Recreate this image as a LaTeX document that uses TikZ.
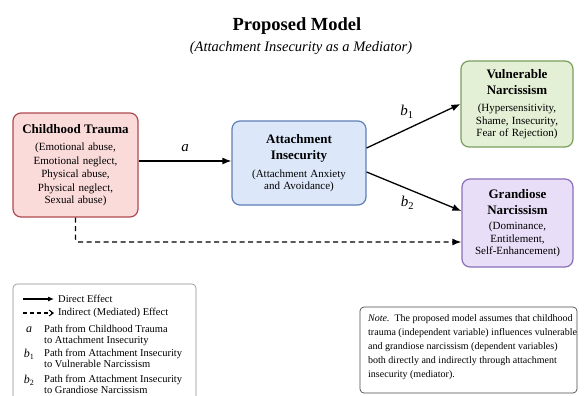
\documentclass[tikz,border=0pt]{standalone}
\usepackage{fontspec}
\setmainfont{Liberation Serif}[BoldFont={Liberation Serif Bold},ItalicFont={Liberation Serif Italic},BoldItalicFont={Liberation Serif Bold Italic}]
\usepackage{amsmath}
\usepackage{xcolor}
\usepackage{tikz}
\usetikzlibrary{arrows.meta}
\usetikzlibrary{calc,positioning}

\definecolor{traumafill}{HTML}{FBDADA}
\definecolor{traumaline}{HTML}{B04A50}
\definecolor{attachfill}{HTML}{DCE8FA}
\definecolor{attachline}{HTML}{5E7FB8}
\definecolor{vulnfill}{HTML}{E3F0D5}
\definecolor{vulnline}{HTML}{7A9E5C}
\definecolor{grandfill}{HTML}{E8DEF8}
\definecolor{grandline}{HTML}{8A6FB8}

\tikzset{
  model/.style={draw,line width=1.2pt,rounded corners=8pt,align=center,inner sep=2pt,text width=#1},
  effect/.style={line width=1.3pt,-{Latex[length=9pt,width=7pt]}},
  pathlabel/.style={font=\fontsize{15}{16}\selectfont\itshape},
  legendtext/.style={anchor=west,align=left,font=\fontsize{10.5}{11}\selectfont,inner sep=0pt}
}
\newcommand{\boxhead}{\fontsize{13}{16.5}\selectfont\bfseries}
\newcommand{\boxbody}{\par\fontsize{11}{13.4}\selectfont\mdseries}

\begin{document}
\begin{tikzpicture}[x=1pt,y=-1pt]
        \useasboundingbox[fill=white] (0,0) rectangle (586,396);
        % title
        \node (title) at (297,26) {\fontsize{18.5}{20}\selectfont\bfseries Proposed Model};
        \node (subtitle) at (301,48) {\fontsize{14.5}{16}\selectfont\itshape (Attachment Insecurity as a Mediator)};
        % variables
        \node[model=118pt,fill=traumafill,draw=traumaline,minimum width=125pt,minimum height=104pt] (trauma) at (75.5,165)
          {\boxhead Childhood Trauma\boxbody\vspace{4pt}(Emotional abuse,\\Emotional neglect,\\Physical abuse,\\Physical neglect,\\Sexual abuse)};
        \node[model=128pt,fill=attachfill,draw=attachline,minimum width=134pt,minimum height=84pt] (attach) at (299,163)
          {\boxhead Attachment\\Insecurity\boxbody\vspace{4pt}(Attachment Anxiety\\and Avoidance)};
        \node[model=106pt,fill=vulnfill,draw=vulnline,minimum width=112pt,minimum height=86pt] (vuln) at (517,104)
          {\boxhead Vulnerable\\Narcissism\boxbody\vspace{3pt}(Hypersensitivity,\\Shame, Insecurity,\\Fear of Rejection)};
        \node[model=106pt,fill=grandfill,draw=grandline,minimum width=111pt,minimum height=88pt] (grand) at (517.5,223)
          {\boxhead Grandiose\\Narcissism\boxbody\vspace{1pt}(Dominance,\\Entitlement,\\Self-Enhancement)};
        % paths
        \draw[effect] ([yshift=4pt]trauma.east)--node[pathlabel,above=5pt]{a}([yshift=2pt]attach.west);
        \draw[effect] ([yshift=15pt]attach.east)--node[pathlabel,above left=4pt and -4pt]{b\textsubscript{\upshape 1}}(vuln.west);
        \draw[effect] ([yshift=-9pt]attach.east)--node[pathlabel,below left=1pt and -4pt]{b\textsubscript{\upshape 2}}([yshift=12pt]grand.west);
        \draw[effect,dash pattern=on 5pt off 3.5pt,rounded corners=3pt] (trauma.south) |- ([yshift=-19pt]grand.west);
        % legend
        \draw[line width=0.6pt,draw=black!45,rounded corners=4pt] (13,284) rectangle (196,410);
        \draw[line width=1.1pt,-{Latex[length=6pt,width=5pt]}] (23,299) coordinate (d1) -- (54,299) coordinate (d2);
        \node[legendtext] (direct) at (58,299) {Direct Effect};
        \draw[line width=1.1pt,dash pattern=on 4pt off 3pt,-{Straight Barb[length=4pt,width=6pt]}] (23,313) coordinate (i1) -- (54,313) coordinate (i2);
        \node[legendtext] (indirect) at (58,313) {Indirect (Mediated) Effect};
        \node[font=\fontsize{12}{12}\selectfont\itshape] (keya) at (29,330) {a};
        \node[legendtext,anchor=north west] (texta) at (44,325) {Path from Childhood Trauma\\to Attachment Insecurity};
        \node[font=\fontsize{12}{12}\selectfont\itshape] (keyb1) at (29,354) {b\textsubscript{\upshape 1}};
        \node[legendtext,anchor=north west] (textb1) at (44,349) {Path from Attachment Insecurity\\to Vulnerable Narcissism};
        \node[font=\fontsize{12}{12}\selectfont\itshape] (keyb2) at (29,380) {b\textsubscript{\upshape 2}};
        \node[legendtext,anchor=north west] (textb2) at (44,375) {Path from Attachment Insecurity\\to Grandiose Narcissism};
        % note
        \draw[draw=black!70,line width=0.7pt,rounded corners=4pt] (360,307) rectangle (577,393);
        \node[anchor=north west,inner sep=0pt,align=left,font=\fontsize{10}{14.2}\selectfont] (note) at (368,314)
          {\textit{Note.}\, The proposed model assumes that childhood\\trauma (independent variable) influences vulnerable\\and grandiose narcissism (dependent variables)\\both directly and indirectly through attachment\\insecurity (mediator).};
    \end{tikzpicture}
\end{document}
